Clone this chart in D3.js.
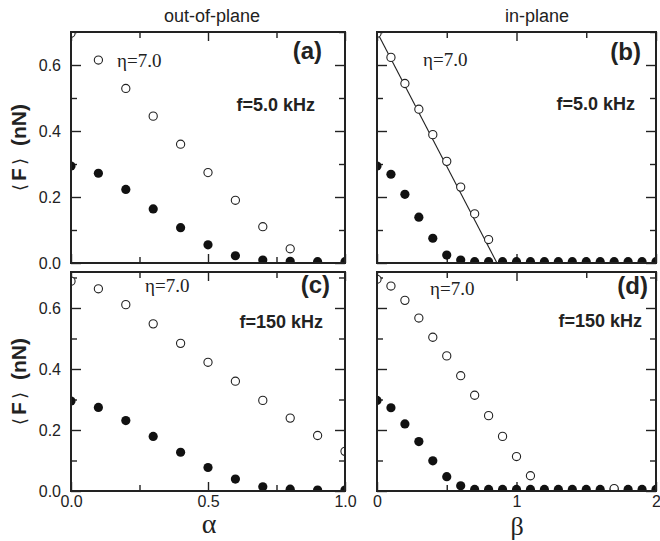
<!DOCTYPE html>
<html lang="en">
<head>
<meta charset="UTF-8">
<title>Friction force vs alpha / beta</title>
<script src="https://cdn.jsdelivr.net/npm/d3@7"></script>
<style>
  body { margin: 0; background: #fff; }
  svg { display: block; }
  .tick text { font-family: "Liberation Sans", Arial, sans-serif; font-size: 16px; fill: #222; }
  .tick line { stroke: #222; stroke-width: 1.4; }
</style>
</head>
<body>
<svg width="660" height="541"></svg>
<script>
// x positions
const alphaX = [0, 0.1, 0.2, 0.3, 0.4, 0.5, 0.6, 0.7, 0.8, 0.9, 1.0];
const betaX = [0, 0.1, 0.2, 0.3, 0.4, 0.5, 0.6, 0.7, 0.8, 0.9, 1.0,
               1.1, 1.2, 1.3, 1.4, 1.5, 1.6, 1.7, 1.8, 1.9, 2.0];

// (a) out-of-plane, f=5.0 kHz
const aOpen = [0.696, 0.615, 0.529, 0.445, 0.360, 0.274, 0.190, 0.110, 0.043];
const aFilled = [0.294, 0.272, 0.223, 0.164, 0.107, 0.055, 0.022, 0.009, 0.005, 0.004, 0.004];

// (b) in-plane, f=5.0 kHz
const bOpen = [0.696, 0.623, 0.544, 0.466, 0.389, 0.308, 0.230, 0.149, 0.071];
const bFilled = [0.294, 0.269, 0.208, 0.139, 0.075, 0.024, 0.009, 0.004, 0.004, 0.004, 0.004,
                 0.004, 0.004, 0.004, 0.004, 0.004, 0.004, 0.004, 0.004, 0.004, 0.004];
const bFitX = [0, 0.86];
const bFitY = [0.70, 0];

// (c) out-of-plane, f=150 kHz
const cOpen = [0.688, 0.663, 0.611, 0.548, 0.484, 0.422, 0.360, 0.297, 0.239, 0.182, 0.130];
const cFilled = [0.295, 0.274, 0.231, 0.179, 0.127, 0.077, 0.039, 0.014, 0.006, 0.003, 0.003];

// (d) in-plane, f=150 kHz
const dOpenX = [0, 0.1, 0.2, 0.3, 0.4, 0.5, 0.6, 0.7, 0.8, 0.9, 1.0, 1.1, 1.7];
const dOpen = [0.694, 0.672, 0.625, 0.567, 0.504, 0.443, 0.378, 0.314, 0.247, 0.179, 0.113, 0.050, 0.008];
const dFilled = [0.297, 0.273, 0.220, 0.162, 0.099, 0.047, 0.017, 0.005, 0.005, 0.005, 0.005,
                 0.005, 0.005, 0.005, 0.005, 0.005, 0.005, 0.005, 0.005, 0.005, 0.005];

// ticks
const yMajor = [0, 0.2, 0.4, 0.6];
const yMinor = [0.1, 0.3, 0.5, 0.7];
const alphaMajor = [0, 0.5, 1.0];
const alphaMinor = [0.25, 0.75];
const betaMajor = [0, 1, 2];
const betaMinor = [0.5, 1.5];

const sans = '"Liberation Sans", Arial, sans-serif';
const serif = '"Liberation Serif", "Times New Roman", serif';

const svg = d3.select("svg");

const panels = [
  { id: "a", x0: 71, x1: 345, y0: 32, y1: 263, xDom: [0, 1], yDom: [0, 0.70],
    xMajor: alphaMajor, xMinor: alphaMinor, xLabels: false, yLabels: true,
    openX: alphaX, open: aOpen, filled: aFilled, filledX: alphaX,
    tag: "(a)", tagX: 322, tagY: 59, freq: "f=5.0 kHz", freqX: 315, freqY: 111, etaX: 117, etaY: 67 },
  { id: "b", x0: 377, x1: 656, y0: 32, y1: 263, xDom: [0, 2], yDom: [0, 0.70],
    xMajor: betaMajor, xMinor: betaMinor, xLabels: false, yLabels: false,
    openX: betaX, open: bOpen, filled: bFilled, filledX: betaX, fit: true,
    tag: "(b)", tagX: 641, tagY: 60, freq: "f=5.0 kHz", freqX: 635, freqY: 110, etaX: 423, etaY: 66 },
  { id: "c", x0: 71, x1: 345, y0: 272, y1: 491, xDom: [0, 1], yDom: [0, 0.718],
    xMajor: alphaMajor, xMinor: alphaMinor, xLabels: true, yLabels: true, xFmt: d3.format(".1f"),
    openX: alphaX, open: cOpen, filled: cFilled, filledX: alphaX,
    tag: "(c)", tagX: 330, tagY: 293, freq: "f=150 kHz", freqX: 323, freqY: 328, etaX: 145, etaY: 292 },
  { id: "d", x0: 377, x1: 656, y0: 272, y1: 491, xDom: [0, 2], yDom: [0, 0.718],
    xMajor: betaMajor, xMinor: betaMinor, xLabels: true, yLabels: false, xFmt: d3.format("d"),
    openX: dOpenX, open: dOpen, filled: dFilled, filledX: betaX,
    tag: "(d)", tagX: 648, tagY: 294, freq: "f=150 kHz", freqX: 642, freqY: 327, etaX: 430, etaY: 295 }
];

panels.forEach(p => {
  const x = d3.scaleLinear().domain(p.xDom).range([p.x0, p.x1]);
  const y = d3.scaleLinear().domain(p.yDom).range([p.y1, p.y0]);
  const w = p.x1 - p.x0, h = p.y1 - p.y0;

  svg.append("clipPath").attr("id", "clip-" + p.id)
    .append("rect").attr("x", p.x0).attr("y", p.y0).attr("width", w).attr("height", h);

  const g = svg.append("g");

  // ticks on all four sides, pointing inward
  const fmtY = p.yLabels ? d3.format(".1f") : "";
  g.append("g").attr("transform", `translate(${p.x0},0)`)
    .call(d3.axisLeft(y).tickValues(yMajor).tickSize(-10).tickPadding(10).tickFormat(fmtY));
  g.append("g").attr("transform", `translate(${p.x0},0)`)
    .call(d3.axisLeft(y).tickValues(yMinor).tickSize(-6).tickFormat(""));
  g.append("g").attr("transform", `translate(${p.x1},0)`)
    .call(d3.axisRight(y).tickValues(yMajor).tickSize(-10).tickFormat(""));
  g.append("g").attr("transform", `translate(${p.x1},0)`)
    .call(d3.axisRight(y).tickValues(yMinor).tickSize(-6).tickFormat(""));

  g.append("g").attr("transform", `translate(0,${p.y1})`)
    .call(d3.axisBottom(x).tickValues(p.xMajor).tickSize(-9).tickPadding(5)
      .tickFormat(p.xLabels ? p.xFmt : ""));
  g.append("g").attr("transform", `translate(0,${p.y1})`)
    .call(d3.axisBottom(x).tickValues(p.xMinor).tickSize(-6).tickFormat(""));
  g.append("g").attr("transform", `translate(0,${p.y0})`)
    .call(d3.axisTop(x).tickValues(p.xMajor).tickSize(-9).tickFormat(""));
  g.append("g").attr("transform", `translate(0,${p.y0})`)
    .call(d3.axisTop(x).tickValues(p.xMinor).tickSize(-6).tickFormat(""));
  g.selectAll(".domain").remove();

  const marks = svg.append("g").attr("clip-path", `url(#clip-${p.id})`);

  if (p.fit) {
    marks.append("path")
      .datum(bFitX.map((v, i) => [v, bFitY[i]]))
      .attr("fill", "none").attr("stroke", "#222").attr("stroke-width", 1.1)
      .attr("d", d3.line().x(d => x(d[0])).y(d => y(d[1])));
  }

  marks.selectAll(".filled").data(p.filled).join("circle")
    .attr("class", "filled")
    .attr("cx", (d, i) => x(p.filledX[i])).attr("cy", d => y(d))
    .attr("r", 4.6).attr("fill", "#111");

  marks.selectAll(".open").data(p.open).join("circle")
    .attr("class", "open")
    .attr("cx", (d, i) => x(p.openX[i])).attr("cy", d => y(d))
    .attr("r", 4.1).attr("fill", "#fff").attr("stroke", "#222").attr("stroke-width", 1.1);

  // frame
  svg.append("rect").attr("x", p.x0).attr("y", p.y0).attr("width", w).attr("height", h)
    .attr("fill", "none").attr("stroke", "#222").attr("stroke-width", 2);

  // annotations
  svg.append("text").attr("x", p.tagX).attr("y", p.tagY).attr("text-anchor", "end")
    .attr("font-family", sans).attr("font-weight", "bold").attr("font-size", 24).attr("fill", "#222")
    .text(p.tag);
  svg.append("text").attr("x", p.freqX).attr("y", p.freqY).attr("text-anchor", "end")
    .attr("font-family", sans).attr("font-weight", "bold").attr("font-size", 18).attr("fill", "#222")
    .text(p.freq);
  svg.append("text").attr("x", p.etaX).attr("y", p.etaY)
    .attr("font-family", serif).attr("font-size", 19).attr("fill", "#222")
    .text("η=7.0");

  // y axis label
  if (p.yLabels) {
    const t = svg.append("text")
      .attr("transform", `translate(26,${(p.y0 + p.y1) / 2}) rotate(-90)`)
      .attr("text-anchor", "middle").attr("font-size", 21).attr("fill", "#222")
      .attr("font-family", sans);
    t.append("tspan").attr("font-family", '"DejaVu Sans", sans-serif').attr("font-size", 18).text("⟨");
    t.append("tspan").attr("font-weight", "bold").attr("dx", 3).text("F");
    t.append("tspan").attr("font-family", '"DejaVu Sans", sans-serif').attr("font-size", 18).attr("dx", 3).text("⟩");
    t.append("tspan").attr("font-weight", "bold").attr("dx", 12).text("(nN)");
  }
});

// column titles
svg.append("text").attr("x", 212).attr("y", 22).attr("text-anchor", "middle")
  .attr("font-family", sans).attr("font-size", 18).attr("fill", "#222").text("out-of-plane");
svg.append("text").attr("x", 537).attr("y", 22).attr("text-anchor", "middle")
  .attr("font-family", sans).attr("font-size", 18).attr("fill", "#222").text("in-plane");

// x axis labels
svg.append("text").attr("x", 209).attr("y", 533).attr("text-anchor", "middle")
  .attr("font-family", serif).attr("font-size", 28).attr("fill", "#222").text("α");
svg.append("text").attr("x", 517).attr("y", 535).attr("text-anchor", "middle")
  .attr("font-family", serif).attr("font-size", 26).attr("fill", "#222").text("β");
</script>
</body>
</html>
